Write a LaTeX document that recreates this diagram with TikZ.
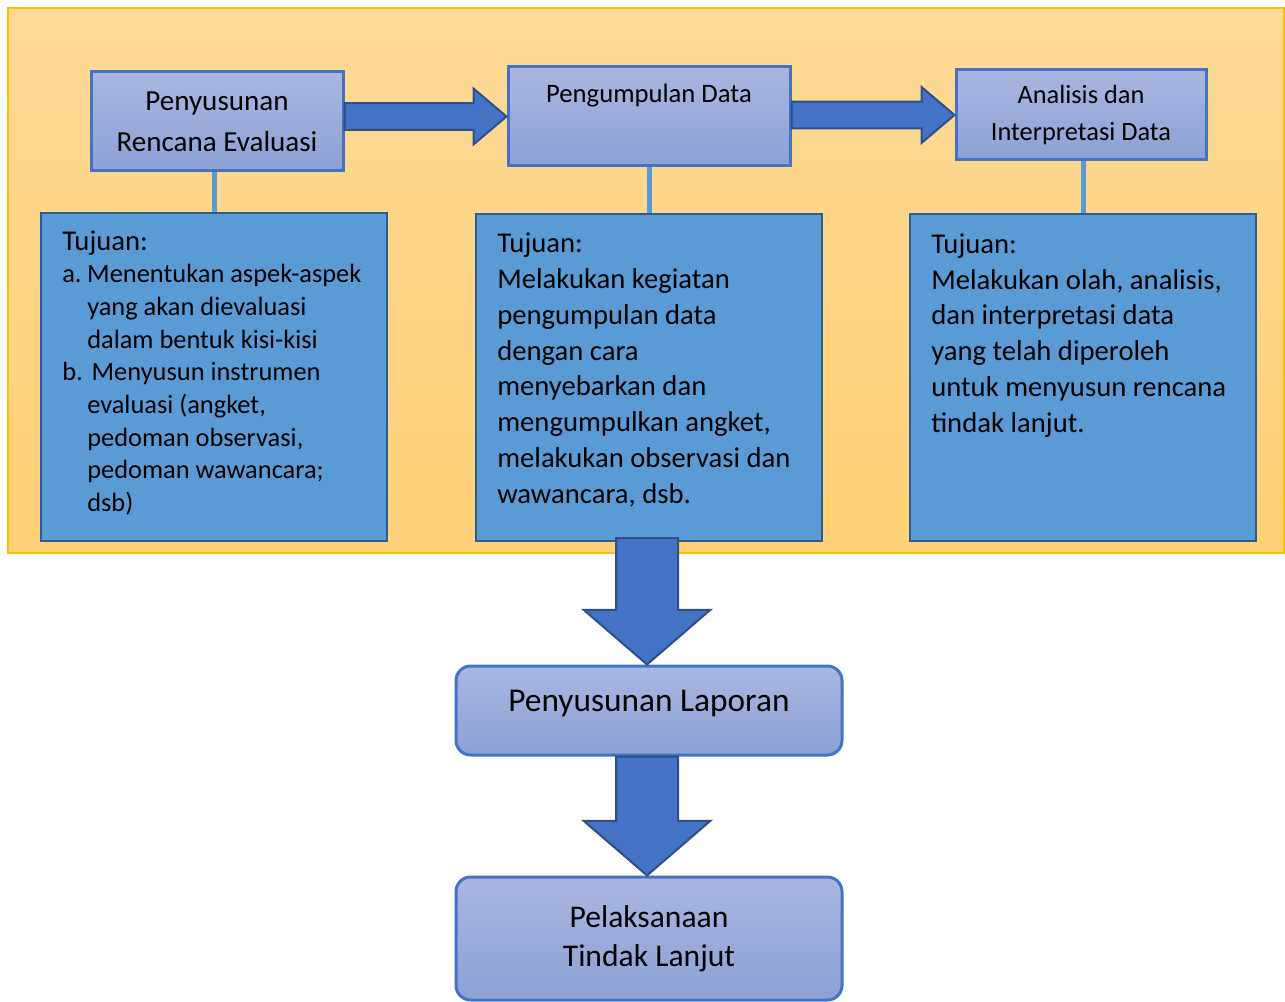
\documentclass[tikz,border=0pt]{standalone}
\usepackage{fontspec}
\setmainfont{Carlito}
\usetikzlibrary{calc}

\definecolor{paneltop}{HTML}{FEDA98}
\definecolor{panelbot}{HTML}{FFD177}
\definecolor{panelline}{HTML}{FFC000}
\definecolor{stagetop}{HTML}{AAB6E1}
\definecolor{stagebot}{HTML}{8CA1D5}
\definecolor{stageline}{HTML}{4472C4}
\definecolor{goalfill}{HTML}{5B9BD5}
\definecolor{goalline}{HTML}{2E5C8E}
\definecolor{arrowfill}{HTML}{4472C4}
\definecolor{arrowline}{HTML}{2F4F86}

% block arrows between two nodes
\newcommand{\blockright}[2]{%
  \path[bigarrow] let \p1=(#1.east), \p2=(#2.west) in
    (\x1,\y2+10pt) -- (\x2-24.75pt,\y2+10pt) -- (\x2-24.75pt,\y2+21pt) -- (\x2,\y2)
    -- (\x2-24.75pt,\y2-21pt) -- (\x2-24.75pt,\y2-10pt) -- (\x1,\y2-10pt) -- cycle;}
\newcommand{\blockdown}[3]{%
  \path[bigarrow] let \p1=(#1.south), \p2=(#2.north) in
    (\x2-24.75pt,\y1+#3) -- (\x2-24.75pt,\y2+41pt) -- (\x2-49pt,\y2+41pt) -- (\x2-1.5pt,\y2)
    -- (\x2+46pt,\y2+41pt) -- (\x2+21.75pt,\y2+41pt) -- (\x2+21.75pt,\y1+#3) -- cycle;}

\begin{document}
\begin{tikzpicture}[x=0.75pt, y=-0.75pt,
    panel/.style={draw=panelline, line width=1pt, top color=paneltop, bottom color=panelbot, inner sep=0pt},
    stage/.style={draw=stageline, line width=2.25pt, top color=stagetop, bottom color=stagebot,
      inner sep=0pt, align=center},
    goal/.style={draw=goalline, line width=1.5pt, fill=goalfill, inner sep=0pt},
    goaltext/.style={anchor=base west, inner sep=0pt, align=left, font=\fontsize{21.5}{26.8}\selectfont},
    link/.style={draw=goalfill, line width=3.75pt},
    bigarrow/.style={draw=arrowline, line width=1.5pt, fill=arrowfill, line join=miter}]
    \useasboundingbox (0,0) rectangle (1285,1002);

    % Panel
    \node[panel, minimum width=957pt, minimum height=408.75pt] (panel) at (646,280.5) {};

    % Stages
    \node[stage, minimum width=189pt, minimum height=74.25pt, font=\fontsize{21.8}{31}\selectfont]
      (plan) at (217,121.5) {Penyusunan\\Rencana Evaluasi};
    \node[stage, minimum width=211.5pt, minimum height=74.25pt] (collect) at (649,116.5) {};
    \node[font=\fontsize{20}{24}\selectfont, inner sep=0pt] (collect-t) at (649,96) {Pengumpulan Data};
    \node[stage, minimum width=187.5pt, minimum height=67.5pt, font=\fontsize{19.8}{27.75}\selectfont]
      (analyse) at (1081,115) {Analisis dan\\Interpretasi Data};

    % Goals
    \node[goal, minimum width=259.5pt, minimum height=246pt] (plan-goal) at (214,377) {};
    \node[goal, minimum width=259.5pt, minimum height=245.25pt] (collect-goal) at (649,377.5) {};
    \node[goal, minimum width=259.5pt, minimum height=245.25pt] (analyse-goal) at (1083,377.5) {};

    % Links
    \draw[link] (plan-goal.north |- plan.south) -- (plan-goal.north);
    \draw[link] (collect.south) -- (collect-goal.north);
    \draw[link] (analyse-goal.north |- analyse.south) -- (analyse-goal.north);

    % Goal texts (placed at the baseline of the last line)
    \node[goaltext, font=\fontsize{19.8}{24.5}\selectfont] (plan-t) at (62,511.5)
      {{\fontsize{21.5}{24.5}\selectfont Tujuan:}\\
       \makebox[18.75pt][l]{a.}Menentukan aspek-aspek\\
       \hspace*{18.75pt}yang akan dievaluasi\\
       \hspace*{18.75pt}dalam bentuk kisi-kisi\\
       \makebox[18.75pt][l]{b.}\,Menyusun instrumen\\
       \hspace*{18.75pt}evaluasi (angket,\\
       \hspace*{18.75pt}pedoman observasi,\\
       \hspace*{18.75pt}pedoman wawancara;\\
       \hspace*{18.75pt}dsb)};
    \node[goaltext] (collect-t2) at (497,503)
      {Tujuan:\\Melakukan kegiatan\\pengumpulan data\\dengan cara\\menyebarkan dan\\
       mengumpulkan angket,\\melakukan observasi dan\\wawancara, dsb.};
    \node[goaltext] (analyse-t) at (931,432)
      {Tujuan:\\Melakukan olah, analisis,\\dan interpretasi data\\yang telah diperoleh\\
       untuk menyusun rencana\\tindak lanjut.};

    % Report and follow-up
    \node[stage, rounded corners=11pt, minimum width=289.5pt, minimum height=66.75pt,
      font=\fontsize{25}{30}\selectfont, text depth=15pt] (report) at (649,710.5) {Penyusunan Laporan};
    \node[stage, rounded corners=11pt, minimum width=289.5pt, minimum height=92.25pt,
      font=\fontsize{23.7}{29.25}\selectfont] (followup) at (649,938.5) {Pelaksanaan\\Tindak Lanjut};

    % Arrows
    \blockright{plan}{collect}
    \blockright{collect}{analyse}
    \blockdown{collect-goal}{report}{3pt}
    \blockdown{report}{followup}{0pt}
\end{tikzpicture}
\end{document}
